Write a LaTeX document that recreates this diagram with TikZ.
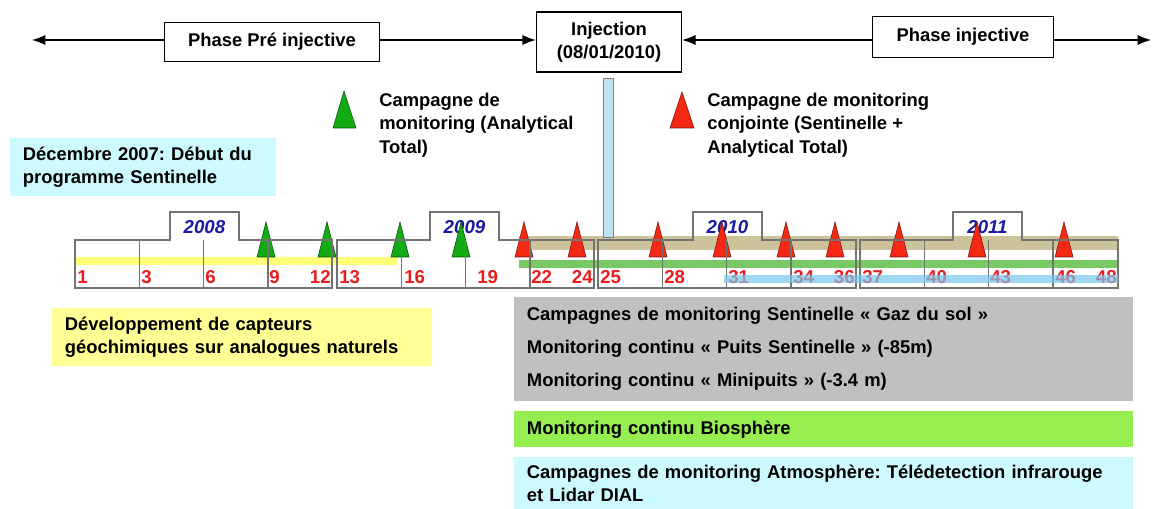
\documentclass[tikz,border=0pt]{standalone}
\usepackage{fontspec}
\setmainfont{Liberation Sans}
\usetikzlibrary{arrows.meta}
\usetikzlibrary{positioning}
\frenchspacing
\definecolor{bleuclair}{RGB}{204,250,255}
\definecolor{jaunepale}{RGB}{255,255,150}
\definecolor{grismoyen}{RGB}{192,192,192}
\definecolor{vertbio}{RGB}{150,238,80}
\definecolor{poteau}{RGB}{190,225,235}
\definecolor{kaki}{RGB}{205,195,155}
\definecolor{bandejaune}{RGB}{255,255,120}
\definecolor{bandeverte}{RGB}{120,200,100}
\definecolor{bandebleue}{RGB}{120,200,240}
\definecolor{rougemois}{RGB}{232,30,30}
\definecolor{bleuannee}{RGB}{25,25,165}
\tikzset{
	>={Latex[length=10pt,width=7.5pt]},
	fleche/.style={->, line width=0.8pt},
	phasebox/.style={
		rectangle,
		draw=black, thick,
		fill=white,
		align=center,
		inner sep=0pt},
	cadre/.style={
		anchor=north west,
		inner xsep=9.5pt,
		inner ysep=0pt,
		align=left},
	annee/.style={font=\fontsize{14}{16}\selectfont\bfseries\itshape, text=bleuannee},
	mois/.style={font=\fontsize{14}{16}\selectfont\bfseries, text=rougemois, inner sep=0pt},
	triverte/.style={fill={rgb,255:red,20;green,170;blue,20}, draw={rgb,255:red,0;green,80;blue,0}},
	trirouge/.style={fill={rgb,255:red,245;green,40;blue,20}, draw={rgb,255:red,120;green,20;blue,10}},
	cloison/.style={draw={rgb,255:red,115;green,115;blue,115}, line width=0.9pt},
}

\begin{document}
\begin{tikzpicture}[x=0.75pt,y=-0.75pt,font=\fontsize{13.8}{17.6}\selectfont\bfseries]
	\useasboundingbox (0,0) rectangle (1152,509);
	
	% phases
	\coordinate (ligne) at (0,40);
	\coordinate (gauche) at (32,40);
	\coordinate (droite) at (1151,40);
	\node[phasebox, minimum width=161pt, minimum height=29pt] (pre) at (272,42) {Phase Pré injective};
	\node[phasebox, minimum width=109pt, minimum height=45pt] (inj) at (609,42) {Injection\\(08/01/2010)};
	\node[phasebox, minimum width=136pt, minimum height=31pt] (post) at (963,37) {Phase injective};
	\draw[fleche] (pre.west |- ligne) -- (gauche);
	\draw[fleche] (pre.east |- ligne) -- (inj.west |- ligne);
	\draw[fleche] (post.west |- ligne) -- (inj.east |- ligne);
	\draw[fleche] (post.east |- ligne) -- (droite);
	
	% legende
	\filldraw[triverte] (344,91) -- (333,128) -- (356,128) -- cycle;
	\node[anchor=west, align=left, inner sep=0pt] (legverte) at (379,125) {Campagne de\\monitoring (Analytical\\Total)};
	\filldraw[trirouge] (682,92) -- (670,128) -- (694,128) -- cycle;
	\node[anchor=west, align=left, inner sep=0pt] (legrouge) at (707,125) {Campagne de monitoring\\conjointe (Sentinelle +\\Analytical Total)};
	
	\node[cadre, fill=bleuclair, text width=180.5pt, minimum height=43.5pt] (debut) at (10,138) {Décembre 2007: Début du\\programme Sentinelle};
	
	% annees
	\foreach \xa/\ta/\an in {75/170/2008, 337/430/2009, 598/693/2010, 860/953/2011}
		\node[annee] (a\an) at ({\ta+34.5},227) {\an};
	
	% bandes
	\fill[bandejaune] (75,257) rectangle (397,265);
	\fill[kaki] (519,236) rectangle (1118,250);
	\fill[bandeverte] (519,260) rectangle (1118,268);
	\fill[poteau, draw=gray] (603,78) rectangle (613,237);
	
	% campagnes
	\foreach \x in {266,327,400,461}
		\filldraw[triverte] (\x,222) -- ++(-9,35) -- ++(18,0) -- cycle;
	\foreach \x in {524,577,658,722,786,835,899,977,1064}
		\filldraw[trirouge] (\x,222) -- ++(-9,35) -- ++(18,0) -- cycle;
	
	% blocs
	\foreach \xa/\xb/\ta in {75/332/170, 337/594/430, 598/856/693, 860/1118/953}{
		\draw[cloison] (\xa,288) -- (\xa,240) -- (\ta,240) -- (\ta,212) -- ({\ta+69},212) -- ({\ta+69},240) -- (\xb,240) -- (\xb,288) -- cycle;
		\foreach \k in {1,2,3}
			\draw[cloison] ({\xa+\k*64.3},240) -- ({\xa+\k*64.3},288);
	}
	
	% mois
	\foreach \n/\x in {1/77, 3/141, 6/205, 9/269, 13/339, 16/404, 19/477, 22/531, 25/600, 28/664, 31/728, 34/793, 37/862, 40/926, 43/990, 46/1055}
		\node[mois, anchor=base west] (m\n) at (\x,284) {\n};
	\foreach \n/\x in {12/331, 24/593, 36/855, 48/1117}
		\node[mois, anchor=base east] (m\n) at (\x,284) {\n};
	\fill[bandebleue, opacity=0.7] (724,275) rectangle (1118,283);
	
	% activites
	\node[cadre, fill=jaunepale, text width=266pt, minimum height=43.5pt] (capteurs) at (52,308) {Développement de capteurs\\géochimiques sur analogues naturels};
	\node[cadre, fill=grismoyen, text width=445pt, minimum height=78pt, font=\fontsize{13.8}{24.75}\selectfont\bfseries] (sentinelle) at (514,297) {Campagnes de monitoring Sentinelle « Gaz du sol »\\Monitoring continu « Puits Sentinelle » (-85m)\\Monitoring continu « Minipuits » (-3.4 m)};
	\node[cadre, fill=vertbio, text width=445pt, minimum height=27pt] (bio) at (514,411) {Monitoring continu Biosphère};
	\node[cadre, fill=bleuclair, text width=445pt, minimum height=39pt] (atmo) at (514,457) {Campagnes de monitoring Atmosphère: Télédetection infrarouge\\et Lidar DIAL};
\end{tikzpicture}
\end{document}
